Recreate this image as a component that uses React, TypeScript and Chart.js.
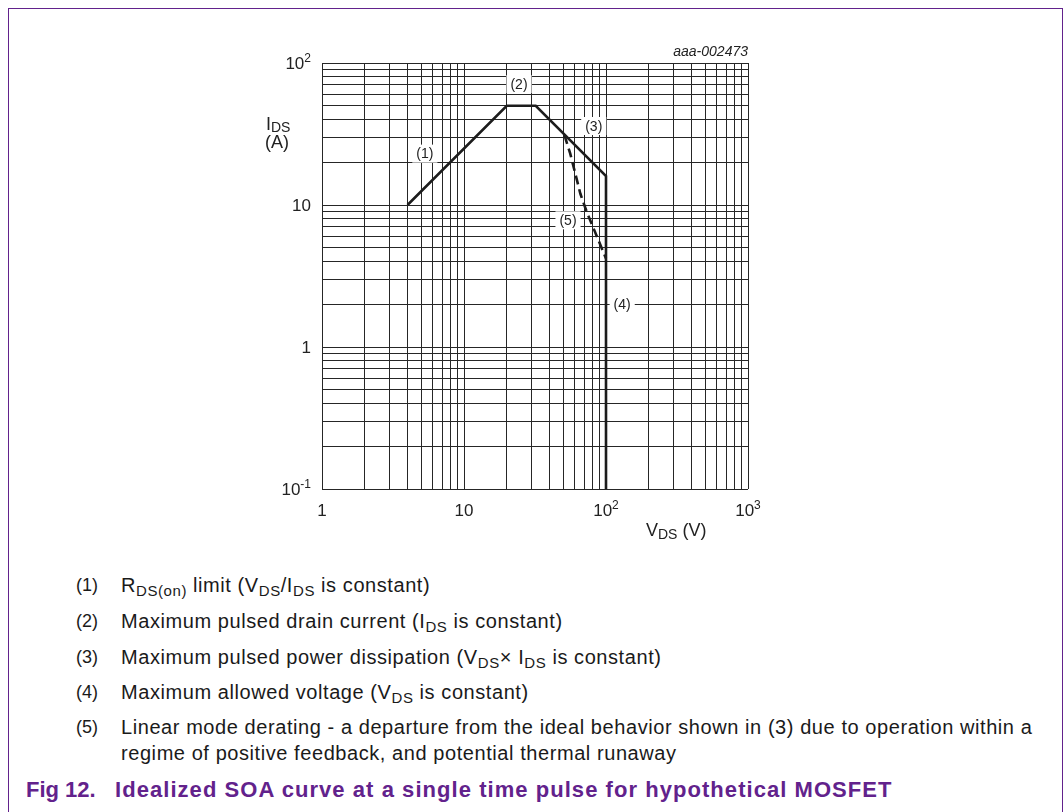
import React, { useEffect, useRef } from 'react';
import { Chart, registerables } from 'chart.js';

Chart.register(...registerables);

// ---- data ----
const limitVoltage = [4, 20, 32, 100, 100];
const limitCurrent = [10, 50, 50, 16, 0.1];
const deratingVoltage = [51, 56, 66, 73, 100];
const deratingCurrent = [31, 23, 12, 9, 4.2];

const xGridValues = [1, 2, 3, 4, 5, 6, 7, 8, 9, 10, 20, 30, 40, 50, 60, 70, 80, 90, 100, 200, 300, 400, 500, 600, 700, 800, 900, 1000];
const yGridValues = [0.1, 0.2, 0.3, 0.4, 0.5, 0.6, 0.7, 0.8, 0.9, 1, 2, 3, 4, 5, 6, 7, 8, 9, 10, 20, 30, 40, 50, 60, 70, 80, 90, 100];

const xTickValues = [1, 10, 100, 1000];
const xTickBase = ['1', '10', '10', '10'];
const xTickExp = ['', '', '2', '3'];
const yTickValues = [0.1, 1, 10, 100];
const yTickBase = ['10', '1', '10', '10'];
const yTickExp = ['-1', '', '', '2'];

const curveLabels = ['(1)', '(2)', '(3)', '(4)', '(5)'];
const curveLabelV = [5.3, 24.4, 82, 130, 54];
const curveLabelI = [23, 71, 36, 2, 7.8];

const FONT = '"Liberation Sans", Arial, Helvetica, sans-serif';
const PURPLE = '#62228c';

type Part = { text: string; size: number; dy?: number; style?: string };

function drawParts(ctx: CanvasRenderingContext2D, parts: Part[], x: number, y: number, align: 'left' | 'center' | 'right') {
  let w = 0;
  parts.forEach((p) => {
    ctx.font = `${p.style || ''} ${p.size}px ${FONT}`;
    w += ctx.measureText(p.text).width;
  });
  let cx = align === 'right' ? x - w : align === 'center' ? x - w / 2 : x;
  ctx.textAlign = 'left';
  ctx.textBaseline = 'alphabetic';
  parts.forEach((p) => {
    ctx.font = `${p.style || ''} ${p.size}px ${FONT}`;
    ctx.fillText(p.text, cx, y + (p.dy || 0));
    cx += ctx.measureText(p.text).width;
  });
}

const labelPlugin = {
  id: 'soaLabels',
  beforeDatasetsDraw(chart: any) {
    const ctx: CanvasRenderingContext2D = chart.ctx;
    const xs = chart.scales.x;
    const ys = chart.scales.y;
    ctx.save();
    ctx.font = `14px ${FONT}`;
    curveLabels.forEach((t, i) => {
      const px = xs.getPixelForValue(curveLabelV[i]);
      const py = ys.getPixelForValue(curveLabelI[i]);
      const w = ctx.measureText(t).width;
      ctx.fillStyle = '#ffffff';
      ctx.fillRect(px - w / 2 - 4, py - 9, w + 8, 18);
      ctx.fillStyle = '#222222';
      ctx.textAlign = 'center';
      ctx.textBaseline = 'middle';
      ctx.font = `14px ${FONT}`;
      ctx.fillText(t, px, py + 1);
    });
    ctx.restore();
  },
  afterDraw(chart: any) {
    const ctx: CanvasRenderingContext2D = chart.ctx;
    const xs = chart.scales.x;
    const ys = chart.scales.y;
    const area = chart.chartArea;
    ctx.save();
    ctx.fillStyle = '#222222';
    // y tick labels
    yTickValues.forEach((v, i) => {
      const py = ys.getPixelForValue(v);
      const parts: Part[] = [{ text: yTickBase[i], size: 17 }];
      if (yTickExp[i]) parts.push({ text: yTickExp[i], size: 12, dy: -7 });
      drawParts(ctx, parts, area.left - 11, py + 6, 'right');
    });
    // x tick labels
    xTickValues.forEach((v, i) => {
      const px = xs.getPixelForValue(v);
      const parts: Part[] = [{ text: xTickBase[i], size: 17 }];
      if (xTickExp[i]) parts.push({ text: xTickExp[i], size: 12, dy: -7 });
      drawParts(ctx, parts, px, area.bottom + 27, 'center');
    });
    // y axis title
    drawParts(ctx, [{ text: 'I', size: 18 }, { text: 'DS', size: 14, dy: 2 }], area.left - 56, area.top + 67, 'left');
    drawParts(ctx, [{ text: '(A)', size: 18 }], area.left - 57, area.top + 85, 'left');
    // x axis title
    drawParts(ctx, [{ text: 'V', size: 18 }, { text: 'DS', size: 14, dy: 3 }, { text: ' (V)', size: 18 }], area.left + 324, area.bottom + 47, 'left');
    // figure id
    drawParts(ctx, [{ text: 'aaa-002473', size: 14, style: 'italic' }], area.right, area.top - 7, 'right');
    ctx.restore();
  },
};

const sub = (t: string) => (
  <span style={{ fontSize: 15, position: 'relative', top: 4 }}>{t}</span>
);

export default function App() {
  const canvasRef = useRef<HTMLCanvasElement | null>(null);

  useEffect(() => {
    document.body.style.margin = '0';
    document.body.style.overflow = 'hidden';
    const canvas = canvasRef.current;
    if (!canvas) return;
    const chart = new Chart(canvas, {
      type: 'line',
      data: {
        datasets: [
          {
            data: limitVoltage.map((v, i) => ({ x: v, y: limitCurrent[i] })),
            borderColor: '#1c1c1c',
            borderWidth: 2.6,
            pointRadius: 0,
            fill: false,
            tension: 0,
            borderJoinStyle: 'miter',
          },
          {
            data: deratingVoltage.map((v, i) => ({ x: v, y: deratingCurrent[i] })),
            borderColor: '#1c1c1c',
            borderWidth: 2.6,
            borderDash: [9, 5],
            pointRadius: 0,
            fill: false,
            tension: 0,
          },
        ],
      },
      options: {
        animation: false,
        responsive: false,
        events: [],
        layout: { padding: { left: 322, top: 63, right: 316, bottom: 61 } },
        plugins: { legend: { display: false }, tooltip: { enabled: false } },
        scales: {
          x: {
            type: 'logarithmic',
            min: 1,
            max: 1000,
            ticks: { display: false, autoSkip: false },
            grid: { color: '#262626', lineWidth: 1, drawTicks: false },
            border: { display: false },
            afterBuildTicks: (s: any) => {
              s.ticks = xGridValues.map((v) => ({ value: v }));
            },
            afterFit: (s: any) => {
              s.height = 0;
            },
          },
          y: {
            type: 'logarithmic',
            min: 0.1,
            max: 100,
            ticks: { display: false, autoSkip: false },
            grid: { color: '#262626', lineWidth: 1, drawTicks: false },
            border: { display: false },
            afterBuildTicks: (s: any) => {
              s.ticks = yGridValues.map((v) => ({ value: v }));
            },
            afterFit: (s: any) => {
              s.width = 0;
            },
          },
        },
      } as any,
      plugins: [labelPlugin],
    });
    return () => chart.destroy();
  }, []);

  const rowStyle = (top: number): React.CSSProperties => ({
    position: 'absolute',
    left: 0,
    top,
    height: 20,
    lineHeight: '20px',
    fontSize: 20,
    letterSpacing: '0.57px',
    fontFamily: FONT,
    color: '#1a1a1a',
    whiteSpace: 'nowrap',
  });

  const row = (top: number, num: string, content: React.ReactNode) => (
    <div style={rowStyle(top)}>
      <span style={{ position: 'absolute', left: 76, fontSize: 18, letterSpacing: 0 }}>{num}</span>
      <span style={{ position: 'absolute', left: 121 }}>{content}</span>
    </div>
  );

  return (
    <div style={{ position: 'relative', width: 1064, height: 812, overflow: 'hidden', background: '#fff' }}>
      <div
        style={{
          position: 'absolute',
          left: 8,
          top: 8,
          width: 1055,
          height: 830,
          boxSizing: 'border-box',
          borderTop: `1.5px solid ${PURPLE}`,
          borderLeft: `1.5px solid ${PURPLE}`,
          borderRight: `1.5px solid ${PURPLE}`,
        }}
      />
      <canvas ref={canvasRef} width={1064} height={550} style={{ position: 'absolute', left: 0, top: 0, width: 1064, height: 550 }} />
      {row(575, '(1)', <>R{sub('DS(on)')} limit (V{sub('DS')}/I{sub('DS')} is constant)</>)}
      {row(611, '(2)', <>Maximum pulsed drain current (I{sub('DS')} is constant)</>)}
      {row(647, '(3)', <>Maximum pulsed power dissipation (V{sub('DS')}× I{sub('DS')} is constant)</>)}
      {row(682, '(4)', <>Maximum allowed voltage (V{sub('DS')} is constant)</>)}
      {row(717, '(5)', <>Linear mode derating - a departure from the ideal behavior shown in (3) due to operation within a</>)}
      {row(743, '', <>regime of positive feedback, and potential thermal runaway</>)}
      <div
        style={{
          position: 'absolute',
          left: 26,
          top: 778,
          height: 24,
          lineHeight: '24px',
          fontSize: 22,
          letterSpacing: '1.05px',
          fontWeight: 'bold',
          fontFamily: FONT,
          color: PURPLE,
          whiteSpace: 'nowrap',
        }}
      >
        <span style={{ letterSpacing: 0 }}>Fig 12.</span>
        <span style={{ position: 'absolute', left: 89 }}>Idealized SOA curve at a single time pulse for hypothetical MOSFET</span>
      </div>
    </div>
  );
}
